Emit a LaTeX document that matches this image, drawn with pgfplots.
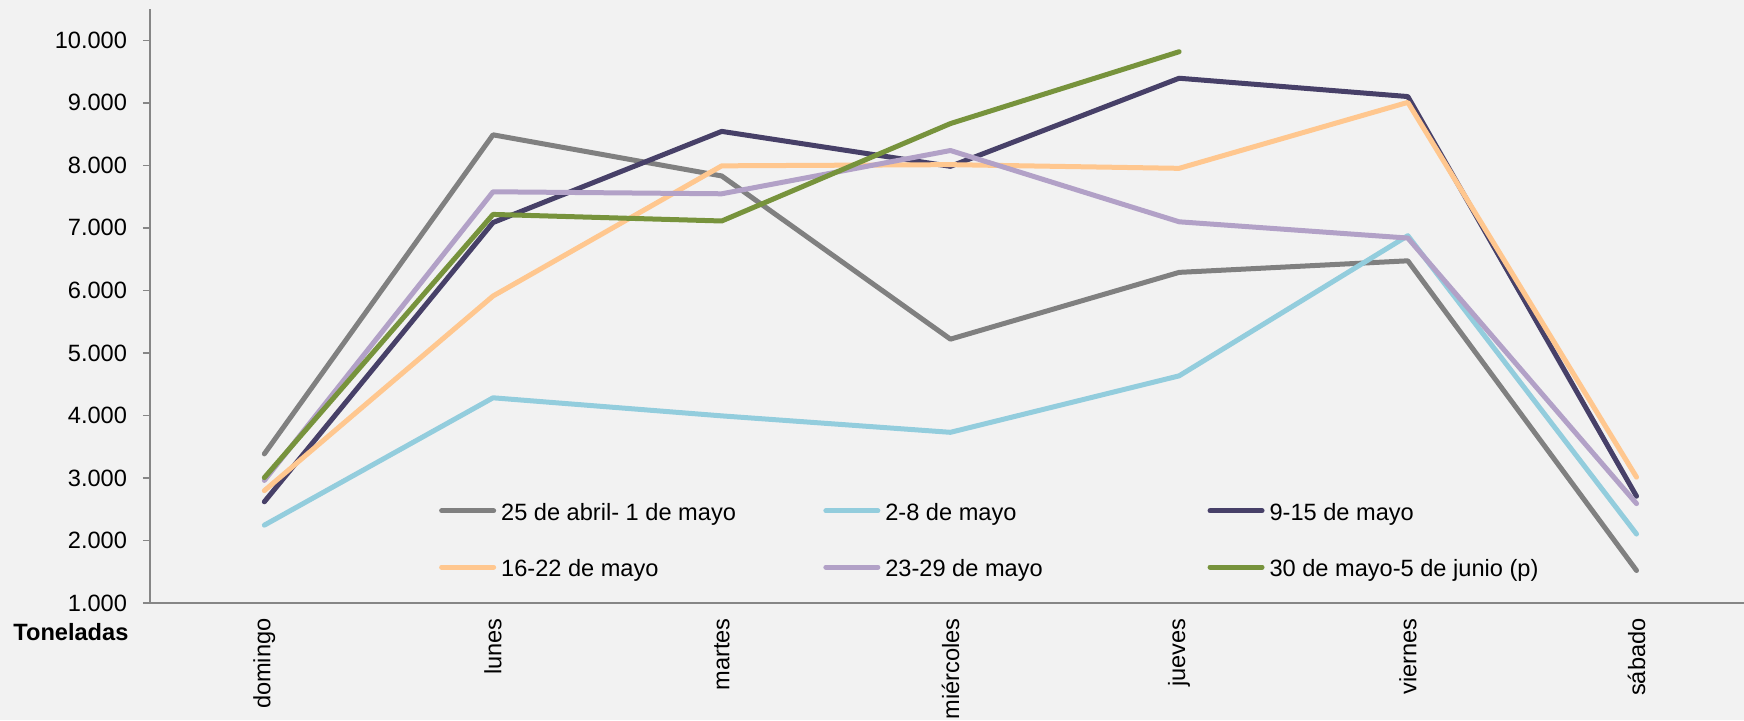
\documentclass[border=0pt]{standalone}
\usepackage{fontspec}
\setmainfont{Liberation Sans}
\usepackage{pgfplots}
\pgfplotsset{compat=1.18}
\definecolor{bg}{HTML}{F2F2F2}
\definecolor{axgray}{HTML}{868686}
\definecolor{cgray}{HTML}{808080}
\definecolor{cblue}{HTML}{93CDDD}
\definecolor{cdark}{HTML}{474068}
\definecolor{corange}{HTML}{FFC78F}
\definecolor{clav}{HTML}{B2A1C7}
\definecolor{cgreen}{HTML}{77933C}
\newcommand{\fs}{\fontsize{11.8pt}{14pt}\selectfont}
\newcommand{\lt}[1]{\makebox[163.6pt][l]{\hspace{2.5pt}#1}}
\begin{document}
\begin{tikzpicture}
\fill[bg] (-75pt,-58.5pt) rectangle (797pt,301.5pt);
\begin{axis}[
  at={(0pt,0pt)}, anchor=south west,
  scale only axis, width=797pt, height=297pt,
  xmin=-0.5, xmax=6.47, ymin=1000, ymax=10500,
  axis x line=bottom, axis y line=left,
  axis line style={-, axgray, line width=0.75pt},
  xtick={0,...,6},
  xticklabels={domingo,lunes,martes,miércoles,jueves,viernes,sábado},
  xtick style={draw=none},
  xticklabel style={yshift=-4pt, rotate=90, anchor=east, inner sep=0pt, font=\fs},
  ytick={1000,2000,...,10000},
  ytick style={axgray, line width=0.75pt},
  tick align=outside, major tick length=3.5pt,
  yticklabel style={inner sep=0pt, anchor=east, xshift=-7.8pt, font=\fs},
  scaled y ticks=false,
  /pgf/number format/.cd, 1000 sep={.}, assume math mode=true,
  /pgfplots/.cd,
  every axis plot/.append style={line width=2.5pt, line cap=round, line join=round},
  legend image code/.code={\draw[#1] (0pt,1.1pt) -- (26pt,1.1pt);},
  legend columns=3,
  legend cell align=left,
  legend style={draw=none, fill=none, inner sep=0pt, outer sep=0pt,
    row sep=18.1pt, column sep=0pt, nodes={inner sep=0pt}, font=\fs,
    at={(rel axis cs:0.1814,0.1042)}, anchor=west},
  clip=false,
]
\addplot[cgray] coordinates {(0,3385) (1,8488) (2,7830) (3,5220) (4,6288) (5,6473) (6,1520)};
\addlegendentry{\lt{25 de abril- 1 de mayo}}
\addplot[cblue] coordinates {(0,2245) (1,4282) (2,3993) (3,3730) (4,4633) (5,6875) (6,2103)};
\addlegendentry{\lt{2-8 de mayo}}
\addplot[cdark] coordinates {(0,2619) (1,7085) (2,8543) (3,7984) (4,9393) (5,9100) (6,2708)};
\addlegendentry{\lt{9-15 de mayo}}
\addplot[corange] coordinates {(0,2797) (1,5910) (2,7992) (3,8011) (4,7952) (5,9007) (6,3013)};
\addlegendentry{\lt{16-22 de mayo}}
\addplot[clav] coordinates {(0,2960) (1,7577) (2,7545) (3,8237) (4,7097) (5,6837) (6,2590)};
\addlegendentry{\lt{23-29 de mayo}}
\addplot[cgreen] coordinates {(0,3005) (1,7215) (2,7110) (3,8668) (4,9817)};
\addlegendentry{\lt{30 de mayo-5 de junio (p)}}
\node[anchor=base east, inner sep=0pt, font=\fs\bfseries] at ([xshift=-10.6pt,yshift=-18.8pt]rel axis cs:0,0) {Toneladas};
\end{axis}
\pgfresetboundingbox
\useasboundingbox (-75pt,-58.5pt) rectangle (797pt,301.5pt);
\end{tikzpicture}
\end{document}
